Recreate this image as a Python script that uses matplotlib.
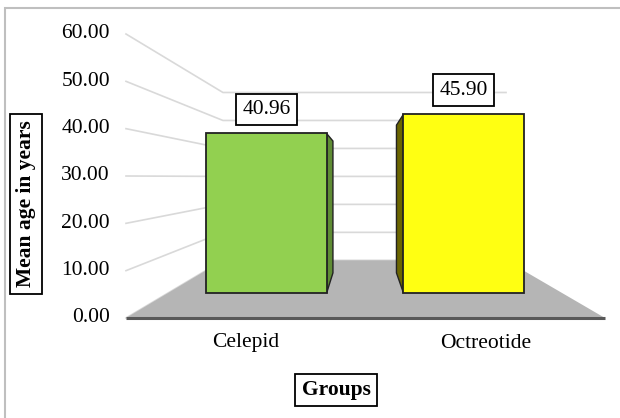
import numpy as np
import matplotlib.pyplot as plt
from matplotlib.patches import Polygon

plt.rcParams['font.family'] = ['Liberation Serif', 'DejaVu Serif']

groups = ["Celepid", "Octreotide"]
mean_age = [40.96, 45.90]
y_ticks = [0, 10, 20, 30, 40, 50, 60]
y_max = 60
front_colors = ["#92d050", "#ffff12"]
side_colors = ["#5f8c34", "#6b6500"]

# front plane of the 3-D box in pixels, and the perspective it shrinks towards
X0, X1 = 126, 605
Y0 = 318
PX_PER_UNIT = (318 - 34) / y_max
VP = np.array([363.0, 177.0])
S_WALL = 0.591            # depth of back wall
S_BAR_FRONT = 0.823
S_BAR_BACK = 0.68
BAR_WIDTH = 0.61
n = len(groups)


def proj(c, v, s):
    front = np.array([X0 + c * (X1 - X0) / n, Y0 - v * PX_PER_UNIT])
    return VP + (front - VP) * s


fig = plt.figure(figsize=(6.2, 4.18), dpi=100)
ax = fig.add_axes([0, 0, 1, 1])
ax.set_xlim(0, 620)
ax.set_ylim(418, 0)
ax.axis('off')

# chart border (left and top edges only)
ax.plot([4.5, 4.5, 620], [418, 7.5, 7.5], color="#bfbfbf", lw=1.5,
        solid_joinstyle='miter')

# gridlines: left side wall then back wall
for v in y_ticks:
    pts = np.array([proj(0, v, 1), proj(0, v, S_WALL), proj(n, v, S_WALL)])
    ax.plot(pts[:, 0], pts[:, 1], color="#d9d9d9", lw=1.2, zorder=1)
    p = proj(0, v, 1)
    ax.text(p[0] - 16, p[1], f"{v:.2f}", ha='right', va='center',
            fontsize=15.5)

# floor
floor = [proj(0, 0, 1), proj(n, 0, 1), proj(n, 0, S_WALL), proj(0, 0, S_WALL)]
ax.add_patch(Polygon(floor, closed=True, facecolor="#b5b5b5",
                     edgecolor='none', zorder=2))
edge = np.array([proj(0, 0, 1), proj(n, 0, 1)])
ax.plot(edge[:, 0], edge[:, 1], color="#595959", lw=2.2, zorder=3,
        solid_capstyle='butt')

# bars
for i, (val, fc, sc) in enumerate(zip(mean_age, front_colors, side_colors)):
    left = i + 0.5 - BAR_WIDTH / 2
    right = i + 0.5 + BAR_WIDTH / 2
    # visible side face is the one facing the vanishing point
    cx = left if proj(left, 0, 1)[0] > VP[0] else right
    side = [proj(cx, 0, S_BAR_FRONT), proj(cx, val, S_BAR_FRONT),
            proj(cx, val, S_BAR_BACK), proj(cx, 0, S_BAR_BACK)]
    ax.add_patch(Polygon(side, closed=True, facecolor=sc, edgecolor="#222222",
                         lw=1.0, zorder=4, joinstyle='miter'))
    face = [proj(left, 0, S_BAR_FRONT), proj(right, 0, S_BAR_FRONT),
            proj(right, val, S_BAR_FRONT), proj(left, val, S_BAR_FRONT)]
    ax.add_patch(Polygon(face, closed=True, facecolor=fc, edgecolor="#222222",
                         lw=1.3, zorder=5, joinstyle='miter'))
    top = proj(i + 0.5, val, S_BAR_FRONT)
    ax.annotate(f"{val:.2f}", xy=top, xytext=(0, 24),
                textcoords='offset pixels', ha='center', va='center',
                fontsize=15.5, zorder=6,
                bbox=dict(boxstyle='square,pad=0.3', fc='white', ec='black',
                          lw=1.3))
    lab = proj(i + 0.5, 0, 1)
    ax.text(lab[0], lab[1] + 25, groups[i], ha='center', va='center',
            fontsize=15.5)

ax.text(26, 204, "Mean age in years", rotation=90, ha='center', va='center',
        fontsize=15.5, fontweight='bold',
        bbox=dict(boxstyle='square,pad=0.3', fc='white', ec='black', lw=1.3))
ax.text(336, 390, "Groups", ha='center', va='center', fontsize=15.5,
        fontweight='bold',
        bbox=dict(boxstyle='square,pad=0.3', fc='white', ec='black', lw=1.3))

fig.savefig("out.png", dpi=100)
